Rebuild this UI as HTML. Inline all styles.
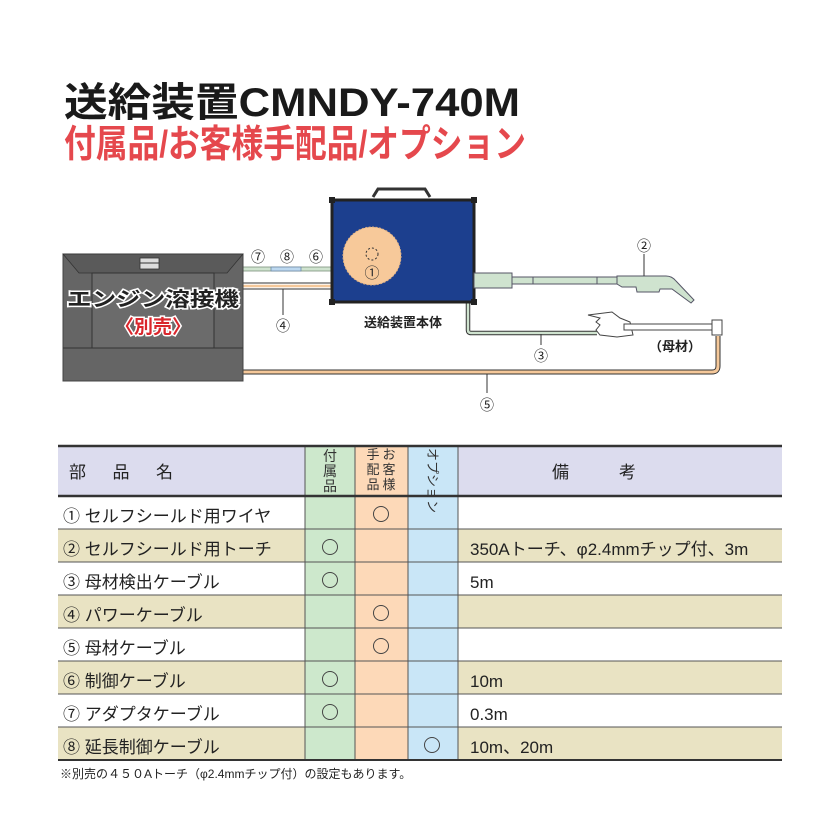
<!DOCTYPE html>
<html><head><meta charset="utf-8"><style>
html,body{margin:0;padding:0;background:#fff;}
svg{display:block;font-family:"Liberation Sans","Noto Sans CJK JP",sans-serif;}
</style></head><body>
<svg width="834" height="834" viewBox="0 0 834 834" xmlns="http://www.w3.org/2000/svg">
<!-- titles -->
<text x="64" y="116" font-size="40" font-weight="bold" fill="#1a1a1a" textLength="456" lengthAdjust="spacingAndGlyphs">送給装置CMNDY-740M</text>
<text x="64" y="157" font-size="38" font-weight="bold" fill="#e5484d" textLength="462" lengthAdjust="spacingAndGlyphs">付属品/お客様手配品/オプション</text>

<!-- cables -->
<rect x="243" y="267" width="88" height="4" fill="#cfe3cf" stroke="#7a8f7a" stroke-width="0.8"/>
<rect x="271" y="267" width="30" height="4" fill="#bcd8ef" stroke="#6e8aa5" stroke-width="0.8"/>
<line x1="243" y1="283" x2="331" y2="283" stroke="#333" stroke-width="1"/>
<line x1="243" y1="286" x2="331" y2="286" stroke="#f5c89a" stroke-width="2.5"/>
<line x1="243" y1="289" x2="331" y2="289" stroke="#333" stroke-width="1"/>
<line x1="283" y1="289" x2="283" y2="315" stroke="#333" stroke-width="1"/>
<!-- cable 5 -->
<path d="M243 372 H712 Q718 372 718 366 V336" fill="none" stroke="#333" stroke-width="5"/>
<path d="M243 372 H712 Q718 372 718 366 V336" fill="none" stroke="#f5c89a" stroke-width="3"/>
<line x1="487" y1="374" x2="487" y2="393" stroke="#333" stroke-width="1"/>
<!-- cable 3 -->
<path d="M468 300 V330 Q468 333 471 333 H597" fill="none" stroke="#333" stroke-width="4.5"/>
<path d="M468 300 V330 Q468 333 471 333 H597" fill="none" stroke="#cfe3cf" stroke-width="2.5"/>
<line x1="541" y1="334" x2="541" y2="345" stroke="#333" stroke-width="1"/>

<!-- engine welder -->
<rect x="63" y="254" width="180" height="127" fill="#656565" stroke="#444" stroke-width="1"/>
<polygon points="63,254 243,254 227,273 79,273" fill="#5a5a5a" stroke="#333" stroke-width="0.8"/>
<rect x="92" y="273" width="122" height="75" fill="#6b6b6b" stroke="#333" stroke-width="1"/>
<line x1="63" y1="348" x2="243" y2="348" stroke="#333" stroke-width="1"/>
<rect x="140" y="258" width="19" height="11" fill="#ddd" stroke="#333" stroke-width="0.8"/>
<line x1="140" y1="263" x2="159" y2="263" stroke="#333" stroke-width="1"/>
<text x="153" y="306" font-size="20" font-weight="bold" fill="#222" stroke="#fff" stroke-width="3" paint-order="stroke" text-anchor="middle" textLength="172" lengthAdjust="spacingAndGlyphs">エンジン溶接機</text>
<text x="153" y="333" font-size="19" font-weight="bold" fill="#d9262c" stroke="#fff" stroke-width="3" paint-order="stroke" text-anchor="middle">〈別売〉</text>

<!-- feeder -->
<path d="M373 197 L378 189 H425 L430 197" fill="none" stroke="#333" stroke-width="3"/>
<rect x="332" y="200" width="142" height="102" fill="#1c3f8e" stroke="#222" stroke-width="3"/>
<rect x="329" y="197" width="6" height="6" fill="#222"/><rect x="471" y="197" width="6" height="6" fill="#222"/>
<rect x="329" y="299" width="6" height="6" fill="#222"/><rect x="471" y="299" width="6" height="6" fill="#222"/>
<circle cx="372" cy="256" r="29" fill="#f7c99a" stroke="#e0b080" stroke-width="1" stroke-dasharray="2 1.5"/>
<circle cx="372" cy="254" r="6" fill="none" stroke="#333" stroke-width="1" stroke-dasharray="2 2"/>
<text x="372" y="278" font-size="15" text-anchor="middle" fill="#333">①</text>
<text x="403" y="327" font-size="13" font-weight="bold" text-anchor="middle" fill="#222">送給装置本体</text>

<!-- torch -->
<rect x="474" y="273" width="38" height="15" fill="#cfe3cf" stroke="#556" stroke-width="1"/>
<rect x="512" y="277" width="107" height="7" fill="#cfe3cf" stroke="#556" stroke-width="1"/>
<line x1="533" y1="277" x2="533" y2="284" stroke="#556"/><line x1="597" y1="277" x2="597" y2="284" stroke="#556"/>
<path d="M617 276 H666 Q672 276 676 281 L694 300 L691 303 L672 289 L660 289 L659 292 L637 292 L636 287 L622 287 L617 284 Z" fill="#cfe3cf" stroke="#556" stroke-width="1"/>
<line x1="644" y1="254" x2="644" y2="276" stroke="#333" stroke-width="1"/>
<!-- clamp -->
<path d="M588 315 L612 312 L620 318 L630 322 L633 335 L617 337 L600 335 L596 330 L600 325 L596 322 L600 318 Z" fill="#fff" stroke="#444" stroke-width="1"/>
<rect x="624" y="324" width="97" height="6" fill="#fff" stroke="#444" stroke-width="1"/>
<rect x="712" y="320" width="10" height="15" fill="#fff" stroke="#444" stroke-width="1"/>
<text x="675" y="351" font-size="13" font-weight="bold" text-anchor="middle" fill="#222">（母材）</text>

<!-- circled labels -->
<g font-size="14" fill="#222" text-anchor="middle">
<text x="258" y="262">⑦</text><text x="287" y="262">⑧</text><text x="316" y="262">⑥</text>
<text x="283" y="331">④</text><text x="644" y="251">②</text>
<text x="541" y="361">③</text><text x="487" y="410">⑤</text>
</g>

<!-- table -->
<rect x="58" y="446" width="724" height="50" fill="#dcdcee"/>
<rect x="58" y="529" width="247" height="33" fill="#e9e3c3"/><rect x="458" y="529" width="324" height="33" fill="#e9e3c3"/>
<rect x="58" y="595" width="247" height="33" fill="#e9e3c3"/><rect x="458" y="595" width="324" height="33" fill="#e9e3c3"/>
<rect x="58" y="661" width="247" height="33" fill="#e9e3c3"/><rect x="458" y="661" width="324" height="33" fill="#e9e3c3"/>
<rect x="58" y="727" width="247" height="33" fill="#e9e3c3"/><rect x="458" y="727" width="324" height="33" fill="#e9e3c3"/>
<rect x="305" y="446" width="50" height="314" fill="#cde8cc"/>
<rect x="355" y="446" width="53" height="314" fill="#fdd9b8"/>
<rect x="408" y="446" width="50" height="314" fill="#c9e6f7"/>
<g stroke="#555" stroke-width="1">
<line x1="58" y1="529" x2="782" y2="529"/><line x1="58" y1="562" x2="782" y2="562"/>
<line x1="58" y1="595" x2="782" y2="595"/><line x1="58" y1="628" x2="782" y2="628"/>
<line x1="58" y1="661" x2="782" y2="661"/><line x1="58" y1="694" x2="782" y2="694"/>
<line x1="58" y1="727" x2="782" y2="727"/>
<line x1="305" y1="446" x2="305" y2="760"/><line x1="355" y1="446" x2="355" y2="760"/>
<line x1="408" y1="446" x2="408" y2="760"/><line x1="458" y1="446" x2="458" y2="760"/>
</g>
<line x1="58" y1="446" x2="782" y2="446" stroke="#333" stroke-width="2.5"/>
<line x1="58" y1="496" x2="782" y2="496" stroke="#333" stroke-width="2.5"/>
<line x1="58" y1="760" x2="782" y2="760" stroke="#333" stroke-width="2"/>

<g font-size="17" fill="#222">
<text x="69" y="478" textLength="104" lengthAdjust="spacing">部 品 名</text>
<text x="552" y="478" textLength="84" lengthAdjust="spacing">備 考</text>
</g>
<g font-size="14" fill="#333" text-anchor="middle">
<text x="330" y="461">付</text><text x="330" y="476">属</text><text x="330" y="491">品</text>
<text x="373" y="459" font-size="13">手</text><text x="389" y="459" font-size="13">お</text>
<text x="373" y="474" font-size="13">配</text><text x="389" y="474" font-size="13">客</text>
<text x="373" y="489" font-size="13">品</text><text x="389" y="489" font-size="13">様</text>
</g>
<text transform="translate(428,448) rotate(90)" font-size="13" fill="#333">オプション</text>

<g font-size="17" fill="#222">
<text x="63" y="522">① セルフシールド用ワイヤ</text>
<text x="63" y="555">② セルフシールド用トーチ</text>
<text x="63" y="588">③ 母材検出ケーブル</text>
<text x="63" y="621">④ パワーケーブル</text>
<text x="63" y="654">⑤ 母材ケーブル</text>
<text x="63" y="687">⑥ 制御ケーブル</text>
<text x="63" y="720">⑦ アダプタケーブル</text>
<text x="63" y="753">⑧ 延長制御ケーブル</text>
<text x="470" y="555">350Aトーチ、φ2.4mmチップ付、3m</text>
<text x="470" y="588">5m</text>
<text x="470" y="687">10m</text>
<text x="470" y="720">0.3m</text>
<text x="470" y="753">10m、20m</text>
</g>
<g fill="none" stroke="#444" stroke-width="1">
<circle cx="381" cy="514" r="7.5"/>
<circle cx="330" cy="547" r="7.5"/><circle cx="330" cy="580" r="7.5"/>
<circle cx="381" cy="613" r="7.5"/><circle cx="381" cy="646" r="7.5"/>
<circle cx="330" cy="679" r="7.5"/><circle cx="330" cy="712" r="7.5"/>
<circle cx="432" cy="745" r="7.5"/>
</g>
<text x="60" y="778" font-size="12" fill="#222">※別売の４５０Aトーチ（φ2.4mmチップ付）の設定もあります。</text>
</svg>
</body></html>
